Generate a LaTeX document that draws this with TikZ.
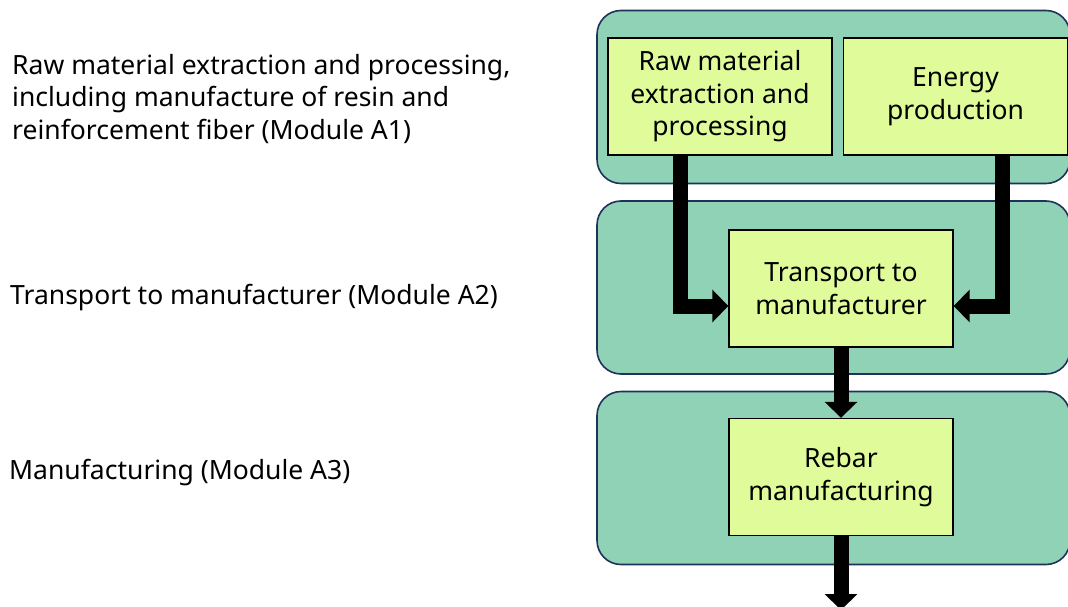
\documentclass[tikz,border=0pt]{standalone}
\usepackage{fontspec}
\setmainfont{Noto Sans}
\usetikzlibrary{arrows.meta, positioning}

\definecolor{stagegreen}{HTML}{8FD2B6}
\definecolor{procyellow}{HTML}{E0FC9A}
\definecolor{edgenavy}{HTML}{1F3358}

\begin{document}
\begin{tikzpicture}[
  x=1pt, y=-1pt,
  stage/.style={draw=edgenavy, line width=1.6pt, rounded corners=24pt, fill=stagegreen, minimum width=473pt, minimum height=173pt},
  proc/.style={draw=black, line width=1.4pt, fill=procyellow, align=center, minimum width=224pt, minimum height=117pt, inner sep=2pt, font=\fontsize{26.5}{32.5}\selectfont},
  side/.style={anchor=west, align=left, inner sep=0pt, font=\fontsize{26.5}{32.5}\selectfont},
  flow/.style={-{Triangle[length=16pt, width=32pt]}, line width=15pt, black}
]
\useasboundingbox (0,0) rectangle (1068,607);

% stages
\node[stage] (stageA1) at (833.5,97) {};
\node[stage] (stageA2) at (833.5,287.5) {};
\node[stage] (stageA3) at (833.5,478) {};

% processes
\node[proc] (raw) at (720,96.5) {Raw material\\extraction and\\processing};
\node[proc] (energy) at (955.5,96.5) {Energy\\production};
\node[proc] (transport) at (841,288.5) {Transport to\\manufacturer};
\node[proc] (rebar) at (841,477) {Rebar\\manufacturing};
\coordinate (out) at (841,610);

% module texts
\node[side] (textA1) at (12,99) {Raw material extraction and processing,\\including manufacture of resin and\\reinforcement fiber (Module A1)};
\node[side] (textA2) at (10,298) {Transport to manufacturer (Module A2)};
\node[side] (textA3) at (9,473) {Manufacturing (Module A3)};

% flows
\draw[flow] ([xshift=-40pt]raw.south) |- ([yshift=-17.5pt]transport.west);
\draw[flow] ([xshift=46.5pt]energy.south) |- ([yshift=-17.5pt]transport.east);
\draw[flow] (transport.south) -- (rebar.north);
\draw[flow] (rebar.south) -- (out);
\end{tikzpicture}
\end{document}
